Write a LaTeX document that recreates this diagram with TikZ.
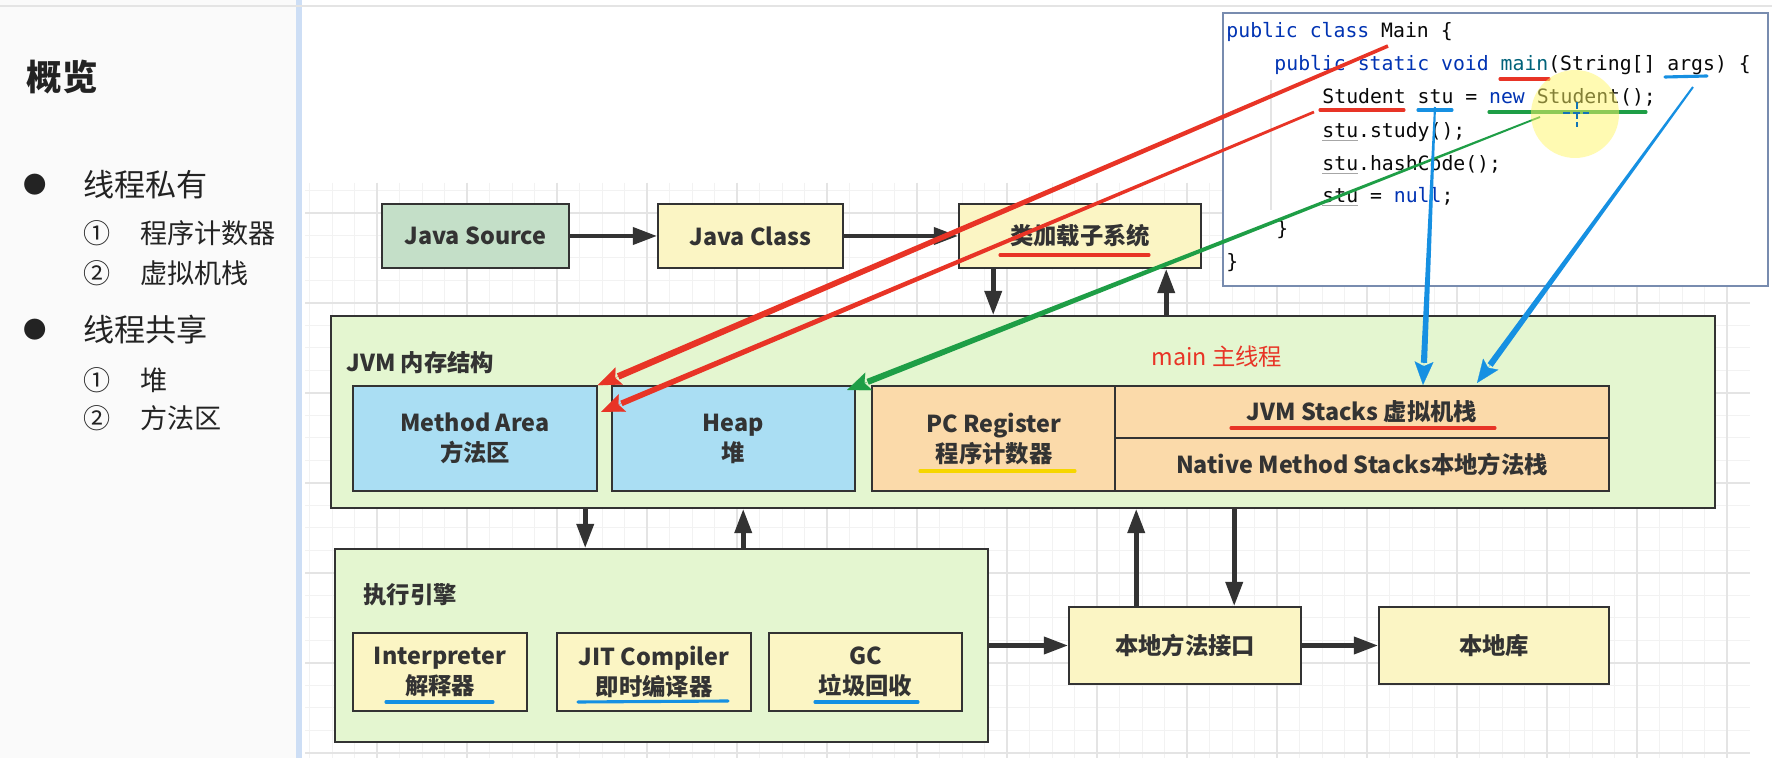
\documentclass[tikz,border=0pt]{standalone}
\usepackage{fontspec}
\setmainfont{Noto Sans CJK SC}
\newfontfamily\codefont{DejaVu Sans Mono}
\usetikzlibrary{arrows.meta,calc}
\definecolor{srcfill}{RGB}{196,223,200}
\definecolor{yfill}{RGB}{251,245,196}
\definecolor{gfill}{RGB}{228,246,208}
\definecolor{bfill}{RGB}{170,222,243}
\definecolor{ofill}{RGB}{251,218,170}
\definecolor{linecol}{RGB}{51,51,51}
\definecolor{txt}{RGB}{51,51,51}
\definecolor{paneltext}{RGB}{35,35,35}
\definecolor{penred}{RGB}{232,52,38}
\definecolor{pengreen}{RGB}{30,158,70}
\definecolor{penblue}{RGB}{22,144,226}
\definecolor{penyellow}{RGB}{246,214,0}
\definecolor{codeborder}{RGB}{120,140,175}
\definecolor{kw}{RGB}{0,51,179}
\definecolor{fn}{RGB}{0,98,122}
\definecolor{codetext}{RGB}{8,8,8}
\definecolor{gridminor}{RGB}{242,242,242}
\definecolor{gridmajor}{RGB}{228,228,228}
\definecolor{panelbg}{RGB}{250,250,250}
\definecolor{sepblue}{RGB}{205,222,245}
\newcommand\taperarrow[5]{%
  \coordinate (#2pre) at ($(#2)!10pt!(#1)$);
  \fill[#5] ($(#1)!#3!90:(#2pre)$) -- ($(#2pre)!#4!-90:(#1)$) -- ($(#2pre)!#4!90:(#1)$) -- ($(#1)!#3!-90:(#2pre)$) -- cycle;
  \draw[#5, line width=0.1pt, -{Stealth[length=10.5pt,width=8.5pt,inset=2pt]}] ($(#2)!10.6pt!(#1)$) -- (#2);
}
\begin{document}
\begin{tikzpicture}[x=0.45pt,y=-0.45pt,
  box/.style={draw=linecol, line width=0.7pt, text=txt, font=\fontsize{10.5}{13.5}\selectfont\bfseries, align=center, inner sep=0pt},
  arr/.style={draw=linecol, line width=2.2pt, -{Triangle[length=11pt,width=7.5pt]}},
  gminor/.style={draw=gridminor, line width=0.45pt},
  gmajor/.style={draw=gridmajor, line width=0.5pt},
  pen/.style={line width=1.4pt, line cap=round},
  codetxt/.style={anchor=base west, inner sep=0pt, font=\codefont\fontsize{8.9}{10}\selectfont, text=codetext},
  paneltxt/.style={anchor=west, inner sep=0pt, text=paneltext},
  lbl/.style={anchor=west, inner sep=0pt, text=txt, font=\fontsize{10.5}{13.5}\selectfont\bfseries}
]
\useasboundingbox (0,0) rectangle (1772,758);
% backgrounds
\fill[white] (0,0) rectangle (1772,758);
\fill[panelbg] (0,0) rectangle (296,758);
\fill[sepblue] (296,0) rectangle (302,758);
\draw[gridmajor, line width=0.9pt] (0,6) -- (1772,6);
% grid
\foreach \k in {1,...,64}{\draw[gminor] (287+22.5*\k,183) -- (287+22.5*\k,758);}
\foreach \k in {-1,...,24}{\draw[gminor] (305,213+22.5*\k) -- (1750,213+22.5*\k);}
\foreach \k in {1,...,16}{\draw[gmajor] (287+90*\k,183) -- (287+90*\k,758);}
\foreach \k in {0,...,6}{\draw[gmajor] (305,213+90*\k) -- (1750,213+90*\k);}

% left panel
\node[paneltxt, font=\fontsize{16}{16}\selectfont\bfseries] (ov) at (26,77) {概览};
\node[inner sep=0pt, text=paneltext, font=\fontsize{10.5}{10.5}\selectfont] (b1) at (35,185) {●};
\node[paneltxt, font=\fontsize{14}{14}\selectfont] (t1) at (83,185) {线程私有};
\node[paneltxt, font=\fontsize{12.2}{12.2}\selectfont] (n11) at (83,233) {①};
\node[paneltxt, font=\fontsize{12.2}{12.2}\selectfont] (s11) at (140,233) {程序计数器};
\node[paneltxt, font=\fontsize{12.2}{12.2}\selectfont] (n12) at (83,273) {②};
\node[paneltxt, font=\fontsize{12.2}{12.2}\selectfont] (s12) at (140,273) {虚拟机栈};
\node[inner sep=0pt, text=paneltext, font=\fontsize{10.5}{10.5}\selectfont] (b2) at (35,330) {●};
\node[paneltxt, font=\fontsize{14}{14}\selectfont] (t2) at (83,330) {线程共享};
\node[paneltxt, font=\fontsize{12.2}{12.2}\selectfont] (n21) at (83,380) {①};
\node[paneltxt, font=\fontsize{12.2}{12.2}\selectfont] (s21) at (140,380) {堆};
\node[paneltxt, font=\fontsize{12.2}{12.2}\selectfont] (n22) at (83,418) {②};
\node[paneltxt, font=\fontsize{12.2}{12.2}\selectfont] (s22) at (140,418) {方法区};

% top row
\node[box, fill=srcfill, minimum width=84.15pt, minimum height=28.8pt] (src) at (475.5,236) {Java Source};
\node[box, fill=yfill, minimum width=83.25pt, minimum height=28.8pt] (cls) at (750.5,236) {Java Class};
\node[box, fill=yfill, minimum width=108.9pt, minimum height=28.8pt] (ldr) at (1080,236) {类加载子系统};

% JVM memory
\node[box, fill=gfill, minimum width=622.8pt, minimum height=86.4pt] (jvm) at (1023,412) {};
\node[lbl] (jvmt) at (346,363) {JVM 内存结构};
\node[anchor=west, inner sep=0pt, text=penred, font=\fontsize{10.5}{13.5}\selectfont] (mainth) at (1151,357) {main 主线程};
\node[box, fill=bfill, minimum width=109.8pt, minimum height=47.25pt] (ma) at (475,438.5) {Method Area\\方法区};
\node[box, fill=bfill, minimum width=109.35pt, minimum height=47.25pt] (heap) at (733.5,438.5) {Heap\\堆};
\node[box, fill=ofill, minimum width=109.8pt, minimum height=47.25pt] (pc) at (994,438.5) {PC Register\\程序计数器};
\node[box, fill=ofill, minimum width=222.3pt, minimum height=23.4pt] (stk) at (1362,412) {JVM Stacks 虚拟机栈};
\node[box, fill=ofill, minimum width=222.3pt, minimum height=23.85pt] (nstk) at (1362,464.5) {Native Method Stacks本地方法栈};

% execution engine
\node[box, fill=gfill, minimum width=293.85pt, minimum height=86.85pt] (eng) at (661.5,645.5) {};
\node[lbl] (engt) at (363,595) {执行引擎};
\node[box, fill=yfill, minimum width=78.3pt, minimum height=35.1pt] (interp) at (440,672) {Interpreter\\解释器};
\node[box, fill=yfill, minimum width=87.3pt, minimum height=35.1pt] (jit) at (654,672) {JIT Compiler\\即时编译器};
\node[box, fill=yfill, minimum width=86.85pt, minimum height=35.1pt] (gc) at (865.5,672) {GC\\垃圾回收};

% native
\node[box, fill=yfill, minimum width=104.4pt, minimum height=34.65pt] (ni) at (1185,645.5) {本地方法接口};
\node[box, fill=yfill, minimum width=103.5pt, minimum height=34.65pt] (lib) at (1494,645.5) {本地库};

% black arrows
\coordinate (a1) at ($(ldr.south west)+(35,0)$);
\coordinate (a2) at ($(ldr.south west)+(208,0)$);
\coordinate (a3) at ($(jvm.south west)+(255,0)$);
\coordinate (a4) at ($(jvm.south west)+(413,0)$);
\coordinate (a5) at ($(ni.north west)+(68,0)$);
\coordinate (a6) at ($(ni.north west)+(166,0)$);
\draw[arr] (src.east) -- (cls.west);
\draw[arr] (cls.east) -- (ldr.west);
\draw[arr] (a1) -- (a1 |- jvm.north);
\draw[arr] (a2 |- jvm.north) -- (a2);
\draw[arr] (a3) -- (a3 |- eng.north);
\draw[arr] (a4 |- eng.north) -- (a4);
\draw[arr] (a5) -- (a5 |- jvm.south);
\draw[arr] (a6 |- jvm.south) -- (a6);
\draw[arr] (eng.east) -- (ni.west);
\draw[arr] (ni.east) -- (lib.west);

% code box
\node[draw=codeborder, fill=white, line width=0.8pt, minimum width=245.25pt, minimum height=122.85pt, inner sep=0pt] (code) at (1495.5,149.5) {};
\draw[gridmajor, line width=0.6pt] (1271,80) -- (1271,210);
\node[codetxt] (c1) at (1226,38) {{\color{kw}public class} Main \{};
\node[codetxt] (c2) at (1274,71) {{\color{kw}public static void} {\color{fn}main}(String[] args) \{};
\node[codetxt] (c3) at (1322,104) {Student stu = {\color{kw}new} Student();};
\node[codetxt] (c4) at (1322,138) {stu.study();};
\node[codetxt] (c5) at (1322,171) {stu.hashCode();};
\node[codetxt] (c6) at (1322,203) {stu = {\color{kw}null};};
\node[codetxt] (c7) at (1276,236) {\}};
\node[codetxt] (c8) at (1226,269) {\}};
\foreach \yy in {111,141,174,206}{\draw[gray!70, line width=0.45pt] (1322,\yy) -- (1358,\yy);}

% pen underlines
\draw[pen, penred] (1000,255) -- (1149,255);
\draw[pen, penyellow] (920,471) -- (1075,471);
\draw[pen, penred] (1231,428) -- (1495,428);
\draw[pen, penblue] (386,702) -- (493,702);
\draw[pen, penblue] (578,702) -- (728,701);
\draw[pen, penblue] (815,702) -- (918,702);
\draw[pen, penred] (1500,79) -- (1549,79);
\draw[pen, penblue] (1665,77) -- (1707,76);
\draw[pen, penred] (1320,110) -- (1404,110);
\draw[pen, penblue] (1418,110) -- (1452,110);
\draw[pen, pengreen] (1489,112) -- (1646,112);

% pen arrows
\coordinate (r1s) at (1388,46);
\coordinate (r2s) at (1314,112);
\coordinate (r2e) at (601,412);
\coordinate (gs) at (1540,117);
\coordinate (ge) at (847,390);
\coordinate (b1s) at (1435,107);
\coordinate (b1e) at (1423,385);
\coordinate (b2s) at (1693,87);
\coordinate (b2e) at (1477,383);
\coordinate (mane) at (ma.north east);
\taperarrow{r1s}{mane}{0.8pt}{1.5pt}{penred}
\taperarrow{r2s}{r2e}{0.6pt}{1.3pt}{penred}
\taperarrow{gs}{ge}{0.4pt}{1.4pt}{pengreen}
\taperarrow{b1s}{b1e}{0.45pt}{1.4pt}{penblue}
\taperarrow{b2s}{b2e}{0.45pt}{1.4pt}{penblue}

% cursor highlight
\fill[yellow!60!white, opacity=0.5] (1575,114) circle (19.8pt);
\draw[penblue!80!black, line width=1.1pt, dash pattern=on 3pt off 1.6pt] (1577,102) -- (1577,127);
\draw[penblue!80!black, line width=1.1pt, dash pattern=on 3pt off 1.6pt] (1563,113) -- (1589,113);
\end{tikzpicture}
\end{document}
